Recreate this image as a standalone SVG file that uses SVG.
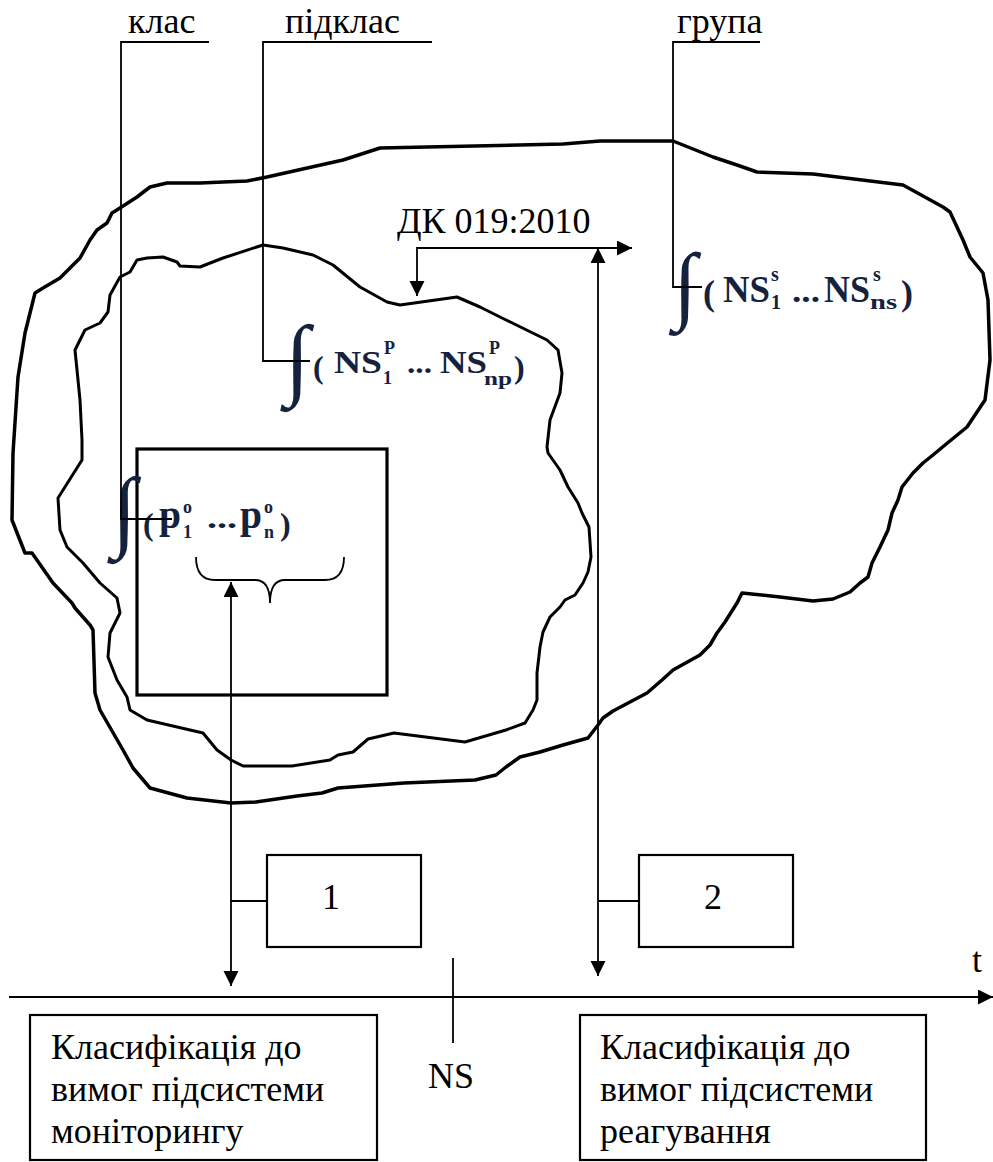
<svg xmlns="http://www.w3.org/2000/svg" width="993" height="1162" viewBox="0 0 993 1162">
<style>
.lbl{font-family:"Liberation Serif","Times New Roman",serif;font-size:36px;fill:#000}
.f{font-family:"Liberation Serif","Times New Roman",serif;font-weight:bold;fill:#15223d}
.int{font-family:"Liberation Serif","Times New Roman",serif;font-weight:normal;fill:#15223d}
.thin{fill:none;stroke:#000;stroke-width:1.8}
.blob{fill:none;stroke:#000;stroke-linejoin:round;stroke-linecap:round}
.box{fill:#fff;stroke:#000;stroke-width:2.2}
</style>
<defs>
<marker id="ah" markerUnits="userSpaceOnUse" markerWidth="16" markerHeight="16" refX="15" refY="7.5" orient="auto-start-reverse">
<path d="M0,0 L15,7.5 L0,15 z" fill="#000"/>
</marker>
</defs>

<g id="outer-blob">
<path class="blob" stroke-width="3.5" d="M13,453 L18,377 L25,333 L35,293 L43,288 L60,278 L80,258 L90,240 L97,230 L107,223 L112,213 L120,208 L137,197 L150,187 L167,183 L200,183 L247,181 L267,177 L343,160 L380,148 L563,144 L600,141 L673,141 L713,157 L737,165 L757,172 L813,174 L903,185 L943,207 L950,212 L963,240 L970,257 L983,273 L988,300 L990,360 L985,400 L967,427 L945,445 L933,455 L923,463 L913,473 L902,487 L898,500 L892,513 L888,530 L880,547 L872,563 L868,577 L860,583 L850,592 L833,599 L813,601 L780,597 L742,593 L737,603 L725,622 L717,633 L710,645 L700,655 L673,670 L662,680 L647,693 L630,702 L613,711 L603,718 L598,725 L588,738 L563,745 L540,752 L520,757 L506,767 L496,775 L475,780 L404,783 L338,788 L322,793 L297,796 L256,802 L231,803 L187,798 L150,788 L133,768 L123,750 L100,710 L95,693 L93,630 L90,625 L75,608 L72,603 L53,583 L32,553 L25,553 L12,520 Z"/>
</g>

<g id="inner-blob">
<path class="blob" stroke-width="3" d="M58,498 L82,460 L82,440 L80,400 L75,350 L85,330 L100,323 L108,312 L110,295 L120,277 L130,272 L137,260 L147,258 L163,257 L177,262 L180,266 L200,267 L223,258 L263,245 L283,248 L313,255 L333,265 L360,287 L387,302 L400,305 L457,297 L480,307 L500,317 L547,340 L558,350 L562,373 L560,393 L550,420 L547,447 L548,453 L560,470 L568,487 L578,503 L582,513 L589,527 L591,557 L588,572 L583,583 L575,595 L565,600 L560,607 L550,617 L543,632 L540,647 L537,673 L537,700 L533,710 L525,723 L506,730 L465,742 L394,733 L368,739 L353,752 L338,755 L330,760 L292,766 L243,766 L231,760 L217,750 L203,733 L147,720 L130,710 L127,697 L117,680 L108,657 L110,633 L120,613 L117,598 L100,583 L83,563 L67,547 L60,530 Z"/>
</g>

<g id="class-rect">
<rect x="137" y="449" width="250" height="246" fill="none" stroke="#000" stroke-width="3.2"/>
</g>

<g id="label-klas">
<text class="lbl" x="128" y="33">клас</text>
</g>
<g id="label-pidklas">
<text class="lbl" x="285" y="33">підклас</text>
</g>
<g id="label-hrupa">
<text class="lbl" x="677" y="33">група</text>
</g>
<g id="label-dk">
<text class="lbl" x="397" y="233">ДК 019:2010</text>
</g>

<g id="formula-class">
<text class="int" x="124" y="540" font-size="90" text-anchor="middle">∫</text>
<text class="f" font-size="32" x="143" y="535">(</text>
<text class="f" font-size="40" x="159" y="528" textLength="22" lengthAdjust="spacingAndGlyphs">p</text>
<text class="f" font-size="18" x="183" y="513">o</text>
<text class="f" font-size="18" x="183" y="538">1</text>
<text class="f" font-size="30" x="207" y="528" textLength="30" lengthAdjust="spacingAndGlyphs">...</text>
<text class="f" font-size="40" x="240" y="528" textLength="22" lengthAdjust="spacingAndGlyphs">p</text>
<text class="f" font-size="18" x="264" y="513">o</text>
<text class="f" font-size="18" x="264" y="538">n</text>
<text class="f" font-size="32" x="280" y="535">)</text>
</g>

<g id="formula-subclass">
<text class="int" x="297" y="388" font-size="90" text-anchor="middle">∫</text>
<text class="f" font-size="32" x="313" y="378">(</text>
<text class="f" font-size="31" x="334" y="373" textLength="48" lengthAdjust="spacingAndGlyphs">NS</text>
<text class="f" font-size="18" x="384" y="354">P</text>
<text class="f" font-size="18" x="383" y="384">1</text>
<text class="f" font-size="30" x="407" y="373" textLength="25" lengthAdjust="spacingAndGlyphs">...</text>
<text class="f" font-size="31" x="440" y="373" textLength="47" lengthAdjust="spacingAndGlyphs">NS</text>
<text class="f" font-size="18" x="489" y="354">P</text>
<text class="f" font-size="18" x="484" y="385" textLength="28" lengthAdjust="spacingAndGlyphs">np</text>
<text class="f" font-size="32" x="514" y="378">)</text>
</g>

<g id="formula-group">
<text class="int" x="685" y="313" font-size="86" text-anchor="middle">∫</text>
<text class="f" font-size="36" x="703" y="305">(</text>
<text class="f" font-size="38" x="723" y="302" textLength="47" lengthAdjust="spacingAndGlyphs">NS</text>
<text class="f" font-size="20" x="771" y="281">s</text>
<text class="f" font-size="20" x="771" y="309">1</text>
<text class="f" font-size="32" x="792" y="302" textLength="28" lengthAdjust="spacingAndGlyphs">...</text>
<text class="f" font-size="38" x="824" y="302" textLength="46" lengthAdjust="spacingAndGlyphs">NS</text>
<text class="f" font-size="20" x="873" y="281">s</text>
<text class="f" font-size="20" x="870" y="309" textLength="27" lengthAdjust="spacingAndGlyphs">ns</text>
<text class="f" font-size="36" x="901" y="305">)</text>
</g>

<g id="brace">
<path class="thin" stroke-width="2" d="M196,557 Q196,580 215,580 L255,580 Q270,580 270,603 Q270,580 285,580 L325,580 Q344,580 344,557"/>
</g>

<g id="box-1">
<rect class="box" x="267" y="855" width="154" height="92"/>
<text class="lbl" x="331" y="909" text-anchor="middle">1</text>
</g>
<g id="box-2">
<rect class="box" x="639" y="855" width="154" height="92"/>
<text class="lbl" x="713" y="909" text-anchor="middle">2</text>
</g>

<g id="box-monitoring">
<rect class="box" x="30" y="1015" width="347" height="145"/>
<text class="lbl" x="51" y="1059">Класифікація до</text>
<text class="lbl" x="51" y="1101">вимог підсистеми</text>
<text class="lbl" x="51" y="1143">моніторингу</text>
</g>
<g id="box-response">
<rect class="box" x="580" y="1015" width="346" height="145"/>
<text class="lbl" x="600" y="1059">Класифікація до</text>
<text class="lbl" x="600" y="1101">вимог підсистеми</text>
<text class="lbl" x="600" y="1143">реагування</text>
</g>

<g id="axis-t">
<text class="lbl" x="972" y="972">t</text>
</g>
<g id="label-ns">
<text class="lbl" x="451" y="1088" text-anchor="middle">NS</text>
</g>

<g id="connectors">
<polyline class="thin" points="209,42 121,42 121,519 172,519"/>
<polyline class="thin" points="432,42 263,42 263,361 310,361"/>
<polyline class="thin" points="760,42 673,42 673,287 702,287"/>
<path class="thin" d="M417,296 L417,248 L632,248" marker-start="url(#ah)" marker-end="url(#ah)"/>
<path class="thin" d="M598,976 L598,248" marker-start="url(#ah)" marker-end="url(#ah)"/>
<path class="thin" d="M231,986 L231,582" marker-start="url(#ah)" marker-end="url(#ah)"/>
<line class="thin" x1="231" y1="901" x2="267" y2="901"/>
<line class="thin" x1="598" y1="901" x2="639" y2="901"/>
<path class="thin" stroke-width="2.4" d="M9,997 L993,997" marker-end="url(#ah)"/>
<line class="thin" x1="453" y1="958" x2="453" y2="1043"/>
</g>
</svg>
